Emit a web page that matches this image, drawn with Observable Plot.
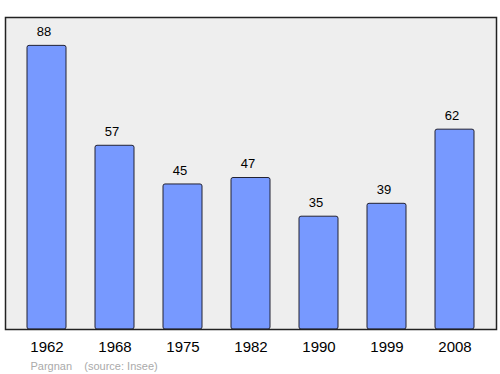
<!DOCTYPE html>
<html>
<head>
<meta charset="utf-8">
<script src="https://cdn.jsdelivr.net/npm/d3@7"></script>
<script src="https://cdn.jsdelivr.net/npm/@observablehq/plot@0.6"></script>
<style>
  html, body { margin: 0; padding: 0; background: #fff; }
  svg { display: block; }
</style>
</head>
<body>
<div id="chart"></div>
<script>
const years = ["1962", "1968", "1975", "1982", "1990", "1999", "2008"];
const population = [88, 57, 45, 47, 35, 39, 62];
const place = "Pargnan";
const source = "(source: Insee)";

const data = years.map((y, i) => ({year: y, value: population[i]}));

const chart = Plot.plot({
  width: 500,
  height: 374,
  marginTop: 17,
  marginBottom: 45,
  marginLeft: 5,
  marginRight: 4,
  style: {fontFamily: "'Liberation Sans', Arial, sans-serif", background: "#fff"},
  x: {domain: years, range: [11.3, 490.1], paddingInner: 0.43, paddingOuter: 0.215, label: null},
  y: {domain: [0, 96.8], axis: null},
  marks: [
    Plot.frame({fill: "#eeeeee"}),
    Plot.barY(data, {x: "year", y: "value", fill: "#7799ff", stroke: "#222233", strokeWidth: 1, rx: 2}),
    Plot.text(data, {x: "year", y: "value", text: d => String(d.value), dx: -3, dy: -14, fontSize: 13, fill: "#000"}),
    Plot.frame({stroke: "#222", strokeWidth: 1.5}),
    Plot.axisX({tickSize: 0, tickPadding: 12, fontSize: 15, fill: "#000", label: null}),
    Plot.text([place + "    " + source], {frameAnchor: "bottom-left", dx: 25, dy: 40, fontSize: 11, fill: "#aaaaaa", textAnchor: "start"})
  ]
});
document.getElementById("chart").appendChild(chart);
</script>
</body>
</html>
